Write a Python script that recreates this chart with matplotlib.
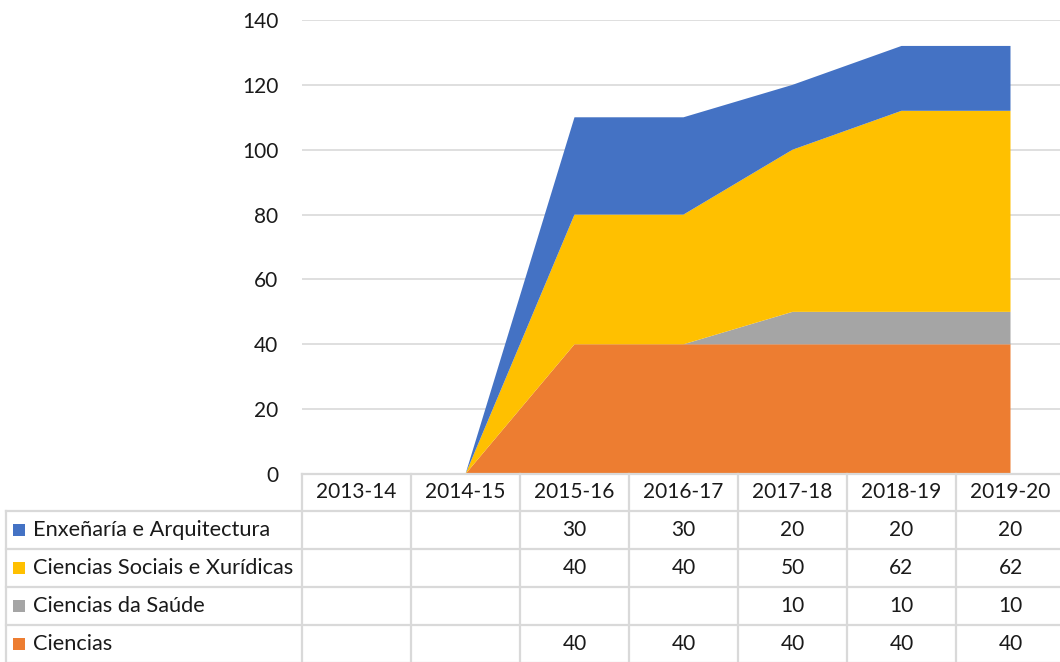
import matplotlib
matplotlib.use("Agg")
import matplotlib.pyplot as plt
from matplotlib.transforms import blended_transform_factory
from matplotlib.patches import Rectangle

plt.rcParams['font.family'] = ['Lato', 'DejaVu Sans']

years = ["2013-14", "2014-15", "2015-16", "2016-17", "2017-18", "2018-19", "2019-20"]
# table order (top to bottom)
series_names = ["Enxeñaría e Arquitectura", "Ciencias Sociais e Xurídicas",
                "Ciencias da Saúde", "Ciencias"]
enxenaria = [None, None, 30, 30, 20, 20, 20]
sociais = [None, None, 40, 40, 50, 62, 62]
saude = [None, None, None, None, 10, 10, 10]
ciencias = [None, None, 40, 40, 40, 40, 40]
colors = ["#4472C4", "#FFC000", "#A5A5A5", "#ED7D31"]
yticks = [0, 20, 40, 60, 80, 100, 120, 140]

table_data = [enxenaria, sociais, saude, ciencias]

W, H = 1060, 662
fig = plt.figure(figsize=(W / 100, H / 100), dpi=100)
ax = fig.add_axes([302 / W, 1 - 474 / H, 763 / W, (474 - 20) / H])

x = list(range(len(years)))
def z(v):
    return [0 if a is None else a for a in v]

# stack bottom to top: Ciencias, Saude, Sociais, Enxenaria
ax.stackplot(x, z(ciencias), z(saude), z(sociais), z(enxenaria),
             colors=[colors[3], colors[2], colors[1], colors[0]], linewidth=0)

ax.set_xlim(-0.5, len(years) - 0.5)
ax.set_ylim(0, 140)
ax.set_yticks(yticks)
ax.set_xticks([])
ax.grid(axis='y', color='#d9d9d9', linewidth=1.2)
ax.set_axisbelow(True)
for s in ax.spines.values():
    s.set_visible(False)
ax.tick_params(axis='y', length=0, pad=17, labelsize=15, labelcolor='#1a1a1a')

FS = 15
# Data table below
tr = blended_transform_factory(ax.transData, fig.transFigure)
rows_px = [474, 511, 549, 587, 625, 663]
def fy(p):
    return 1 - p / H
lc = '#d9d9d9'
lw = 1.6
n = len(years)
xl, xr = -0.5, n - 0.5
# horizontal lines
fig.add_artist(plt.Line2D([xl, xr], [fy(rows_px[0])] * 2, transform=tr, color=lc, lw=lw))
for p in rows_px[1:]:
    fig.add_artist(plt.Line2D([6 / W, 1.0], [fy(p)] * 2, transform=fig.transFigure, color=lc, lw=lw))
# vertical lines
for k in range(n + 1):
    fig.add_artist(plt.Line2D([k - 0.5] * 2, [fy(rows_px[0]), fy(rows_px[-1])], transform=tr,
                              color=lc, lw=lw))
fig.add_artist(plt.Line2D([6 / W] * 2, [fy(rows_px[1]), fy(rows_px[-1])],
                          transform=fig.transFigure, color=lc, lw=lw))

# header
for k, yr in enumerate(years):
    fig.text(k, fy((rows_px[0] + rows_px[1]) / 2), yr, transform=tr, ha='center', va='center',
             fontsize=FS, color='#1a1a1a')
# rows
for r, (name, vals, col) in enumerate(zip(series_names, table_data, colors)):
    yc = fy((rows_px[r + 1] + rows_px[r + 2]) / 2)
    fig.add_artist(Rectangle((13 / W, yc - 6 / H), 12 / W, 12 / H, transform=fig.transFigure,
                             facecolor=col, edgecolor='none'))
    fig.text(33 / W, yc, name, ha='left', va='center', fontsize=15.7, color='#1a1a1a')
    for k, v in enumerate(vals):
        if v is not None:
            fig.text(k, yc, str(v), transform=tr, ha='center', va='center',
                     fontsize=FS, color='#1a1a1a')

fig.savefig("out.png", dpi=100)
